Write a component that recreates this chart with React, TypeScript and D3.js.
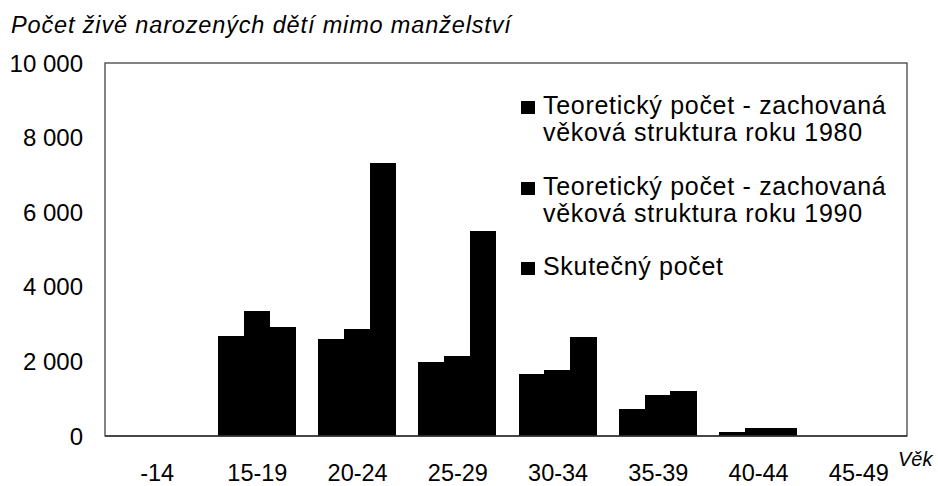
import React from "react";
import * as d3 from "d3";

const categories = ["-14", "15-19", "20-24", "25-29", "30-34", "35-39", "40-44", "45-49"];
const seriesNames = [
  ["Teoretický počet - zachovaná", "věková struktura roku 1980"],
  ["Teoretický počet - zachovaná", "věková struktura roku 1990"],
  ["Skutečný počet"],
];
const values1980 = [0, 2689, 2592, 1984, 1654, 716, 107, 0];
const values1990 = [0, 3359, 2861, 2145, 1769, 1099, 214, 0];
const valuesActual = [0, 2914, 7311, 5504, 2646, 1214, 214, 0];
const yTicks = [0, 2000, 4000, 6000, 8000, 10000];
const title = "Počet živě narozených dětí mimo manželství";
const xTitle = "Věk";

const W = 938;
const H = 486;
const FONT = "'Liberation Sans', Arial, Helvetica, sans-serif";

export default function App() {
  const left = 105, right = 907, top = 63, bottom = 436;
  const x = d3.scaleBand<string>().domain(categories).range([left, right]).padding(0);
  const y = d3.scaleLinear().domain([0, 10000]).range([bottom, top]);
  const inner = d3.scaleBand<number>().domain([0, 1, 2]).range([12.5, 90]).padding(0);
  const series = [values1980, values1990, valuesActual];
  const fmt = (v: number) => d3.format(",")(v).replace(/,/g, " ");

  const legendBaselines = [[114, 141], [195, 222], [275]];

  return (
    <svg width={W} height={H} style={{ position: "absolute", left: 0, top: 0, background: "#fff" }} fontFamily={FONT}>
      <rect x={0} y={0} width={W} height={H} fill="#fff" />
      <text x={11} y={33} fontSize={23.5} fontStyle="italic" letterSpacing={0.85} fill="#000">{title}</text>
      {/* frame */}
      <rect x={left} y={top} width={right - left} height={bottom - top} fill="none" stroke="#333" strokeWidth={1.2} />
      {/* bars */}
      <g shapeRendering="crispEdges">
        {series.map((vals, si) =>
          vals.map((v, ci) => (
            <rect
              key={`${si}-${ci}`}
              x={(x(categories[ci]) as number) + (inner(si) as number)}
              y={y(v)}
              width={inner.bandwidth() + 0.6}
              height={bottom - y(v)}
              fill="#000"
            />
          ))
        )}
      </g>
      <line x1={left} x2={right} y1={bottom} y2={bottom} stroke="#333" strokeWidth={1.4} />
      {/* y ticks */}
      {yTicks.map((t) => (
        <text key={t} x={83} y={y(t) + 8.5} fontSize={24} textAnchor="end" fill="#000">{fmt(t)}</text>
      ))}
      {/* x labels */}
      {categories.map((c) => (
        <text key={c} x={(x(c) as number) + x.bandwidth() / 2 + 2} y={481} fontSize={23.5} textAnchor="middle" fill="#000">{c}</text>
      ))}
      <text x={898} y={466} fontSize={20} fontStyle="italic" fill="#000">{xTitle}</text>
      {/* legend */}
      {seriesNames.map((lines, i) => (
        <g key={i}>
          <rect x={521} y={legendBaselines[i][0] - 13} width={14} height={13} fill="#000" />
          {lines.map((ln, j) => (
            <text key={j} x={543} y={legendBaselines[i][j]} fontSize={25} letterSpacing={0.7} fill="#000">{ln}</text>
          ))}
        </g>
      ))}
    </svg>
  );
}
